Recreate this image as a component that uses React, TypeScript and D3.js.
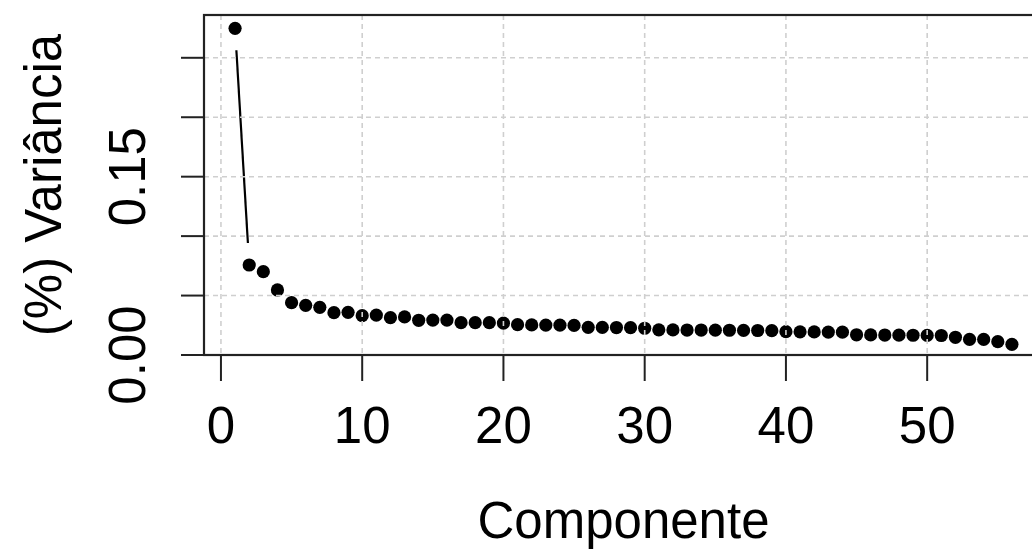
import * as d3 from 'd3';

// Proportion of variance explained by each component
const variance = [
  0.2748, 0.0757, 0.0701, 0.0547, 0.0440, 0.0418, 0.0401, 0.0356, 0.0359, 0.0331,
  0.0336, 0.0314, 0.0320, 0.0292, 0.0294, 0.0294, 0.0272, 0.0272, 0.0272, 0.0268,
  0.0255, 0.0253, 0.0252, 0.0251, 0.0249, 0.0233, 0.0232, 0.0231, 0.0230, 0.0225,
  0.0212, 0.0211, 0.0210, 0.0210, 0.0209, 0.0208, 0.0207, 0.0206, 0.0205, 0.0196,
  0.0195, 0.0194, 0.0193, 0.0192, 0.0170, 0.0169, 0.0168, 0.0167, 0.0166, 0.0165,
  0.0164, 0.0149, 0.0132, 0.0131, 0.0112, 0.0090,
];
const components = variance.map((_, i) => i + 1);

const xTicks = [0, 10, 20, 30, 40, 50, 60];
const yTicks = [0, 0.05, 0.1, 0.15, 0.2, 0.25];
// R drops labels that would collide, only these survive
const yLabelled = [0, 0.15];

const W = 1032;
const H = 549;
const FONT = '"Liberation Sans", Arial, sans-serif';

export default function App() {
  const x = d3.scaleLinear().domain([-1.2, 58.2]).range([204, 1043]);
  const y = d3.scaleLinear().domain([0, 0.286]).range([355, 15]);

  const [x0, x1] = x.range();
  const [yb, yt] = y.range();

  const pts = components.map((c, i) => [x(c), y(variance[i])] as [number, number]);

  // type = "b": line segments with a gap around each point
  const gap = 22;
  const segs: [number, number, number, number][] = [];
  for (let i = 1; i < pts.length; i++) {
    const [ax, ay] = pts[i - 1];
    const [bx, by] = pts[i];
    const d = Math.hypot(bx - ax, by - ay);
    if (d > 2 * gap) {
      const ux = (bx - ax) / d, uy = (by - ay) / d;
      segs.push([ax + ux * gap, ay + uy * gap, bx - ux * gap, by - uy * gap]);
    }
  }

  const grid = '#cfcfcf';
  const ink = '#222';

  return (
    <svg width={W} height={H} style={{ position: 'absolute', left: 0, top: 0, background: '#fff' }}
      fontFamily={FONT}>
      {/* points and connecting lines */}
      {segs.map((s, i) => (
        <line key={'s' + i} x1={s[0]} y1={s[1]} x2={s[2]} y2={s[3]} stroke="#000" strokeWidth={2.2} />
      ))}
      {pts.map((p, i) => (
        <circle key={'p' + i} cx={p[0]} cy={p[1]} r={6.6} fill="#000" />
      ))}

      {/* grid drawn over the points, like grid() after plot() */}
      {xTicks.map(t => (
        <line key={'gx' + t} x1={x(t)} x2={x(t)} y1={yt} y2={yb}
          stroke={grid} strokeWidth={1.6} strokeDasharray="5 4" />
      ))}
      {yTicks.map(t => (
        <line key={'gy' + t} x1={x0} x2={x1} y1={y(t)} y2={y(t)}
          stroke={grid} strokeWidth={1.6} strokeDasharray="5 4" />
      ))}

      {/* box */}
      <rect x={x0} y={yt} width={x1 - x0} height={yb - yt} fill="none" stroke={ink} strokeWidth={2.2} />

      {/* x axis */}
      {xTicks.filter(t => t <= 56).map(t => (
        <g key={'xt' + t}>
          <line x1={x(t)} x2={x(t)} y1={yb} y2={yb + 26} stroke={ink} strokeWidth={2} />
          <text x={x(t)} y={443} fontSize={51} textAnchor="middle" fill="#000">{t}</text>
        </g>
      ))}

      {/* y axis */}
      {yTicks.map(t => (
        <line key={'yt' + t} x1={x0 - 23} x2={x0} y1={y(t)} y2={y(t)} stroke={ink} strokeWidth={2} />
      ))}
      {yLabelled.map(t => (
        <text key={'yl' + t} transform={`translate(145,${y(t)}) rotate(-90)`} fontSize={51}
          textAnchor="middle" fill="#000">{d3.format('.2f')(t)}</text>
      ))}

      {/* axis titles */}
      <text x={(x0 + x1) / 2} y={538} fontSize={51} textAnchor="middle" fill="#000">Componente</text>
      <text transform={`translate(61,${(yt + yb) / 2}) rotate(-90)`} fontSize={51}
        textAnchor="middle" fill="#000">(%) Variância</text>
    </svg>
  );
}
